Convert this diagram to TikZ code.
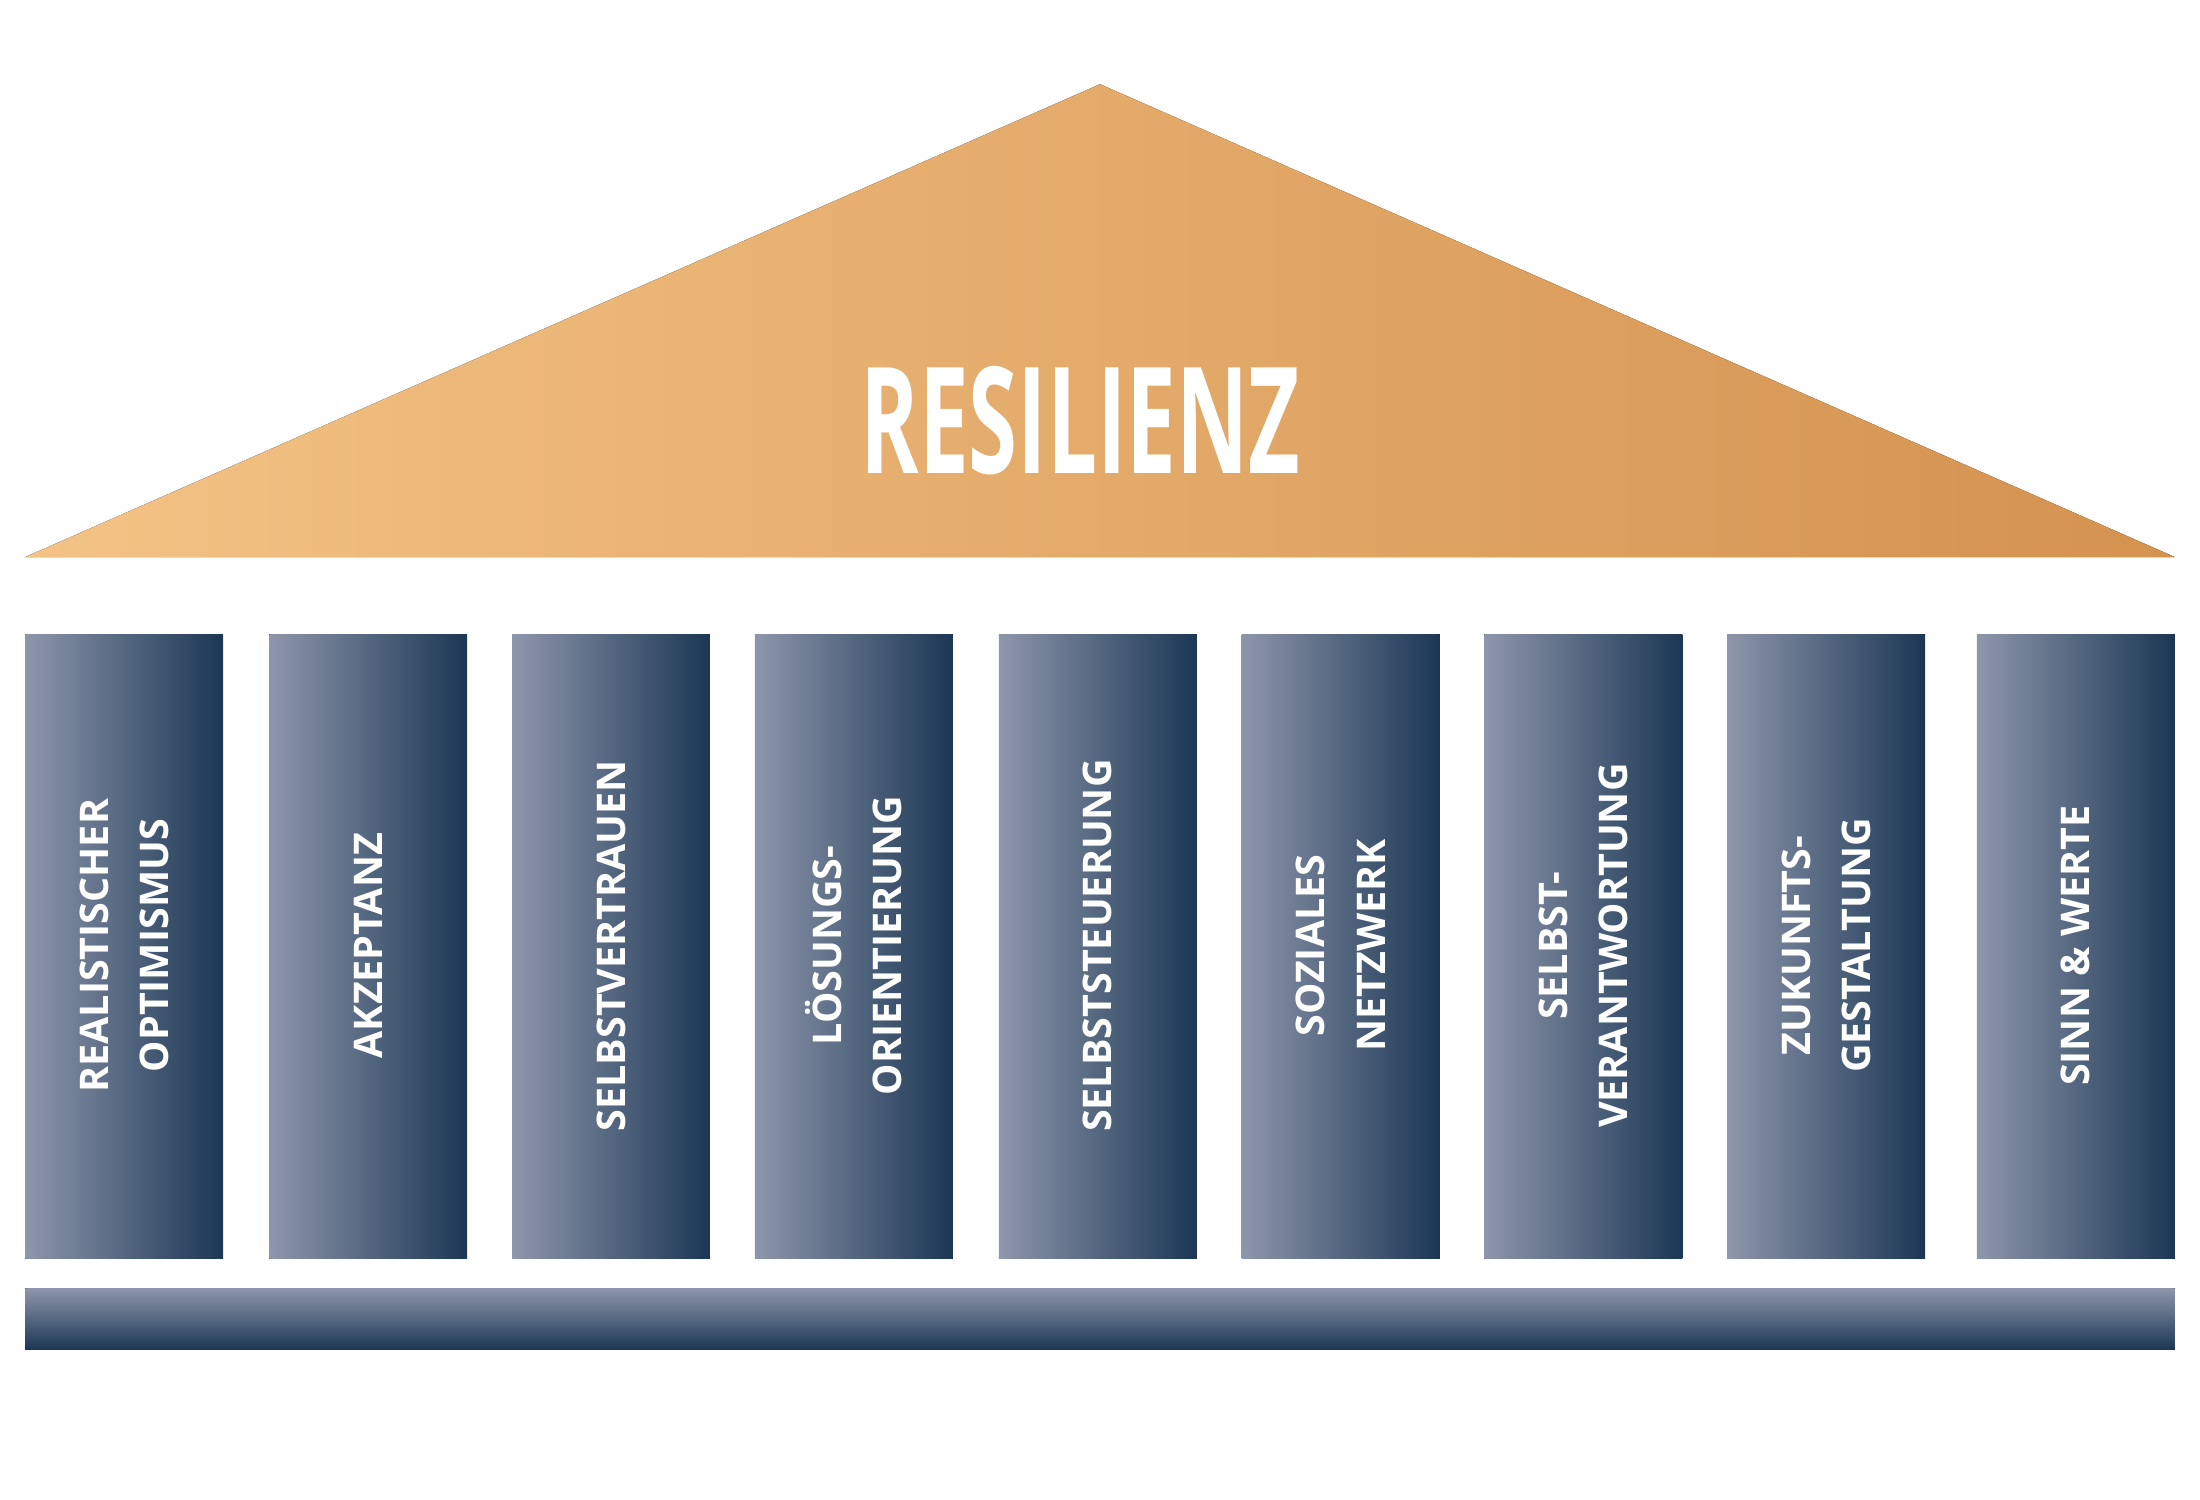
\documentclass[tikz,border=0pt]{standalone}
\usepackage{fontspec}
\setmainfont{Open Sans}
\usepackage{tikz}
\definecolor{roofL}{HTML}{F3C385}
\definecolor{roofR}{HTML}{D4924F}
\definecolor{colL}{HTML}{8E96AB}
\definecolor{colR}{HTML}{1B3754}
\tikzset{
  pillar/.style={left color=colL, right color=colR, draw=none},
  pillartext/.style={rotate=90, text=white, align=center,
    font=\fontsize{8}{12.2}\selectfont\bfseries}
}
\begin{document}
\begin{tikzpicture}[x=0.01cm, y=-0.01cm]
    \useasboundingbox (0,0) rectangle (1568,1069);
    % Roof
    \fill[left color=roofL, right color=roofR] (18,397) -- (784,60) -- (1550,397) -- cycle;
    \node[text=white, font=\fontsize{30}{30}\selectfont\bfseries] (title) at (770,300)
      {\scalebox{0.6}[1]{RESILIENZ}};
  
    % Pillars
    \foreach \x/\label [count=\i] in {18/{REALISTISCHER\\OPTIMISMUS}, 192/{AKZEPTANZ},
        365/{SELBSTVERTRAUEN}, 538/{LÖSUNGS-\\ORIENTIERUNG}, 712/{SELBSTSTEUERUNG},
        885/{SOZIALES\\NETZWERK}, 1058/{SELBST-\\VERANTWORTUNG}, 1231/{ZUKUNFTS-\\GESTALTUNG},
        1409/{SINN \& WERTE}}
    {
      \fill[pillar] (\x,452) rectangle ++(141,445);
      \node[pillartext] (p\i) at (\x+70.5,674) {\label};
    }
  
    % Base
    \fill[top color=colL, bottom color=colR] (18,918) rectangle (1550,962);
  \end{tikzpicture}
\end{document}
